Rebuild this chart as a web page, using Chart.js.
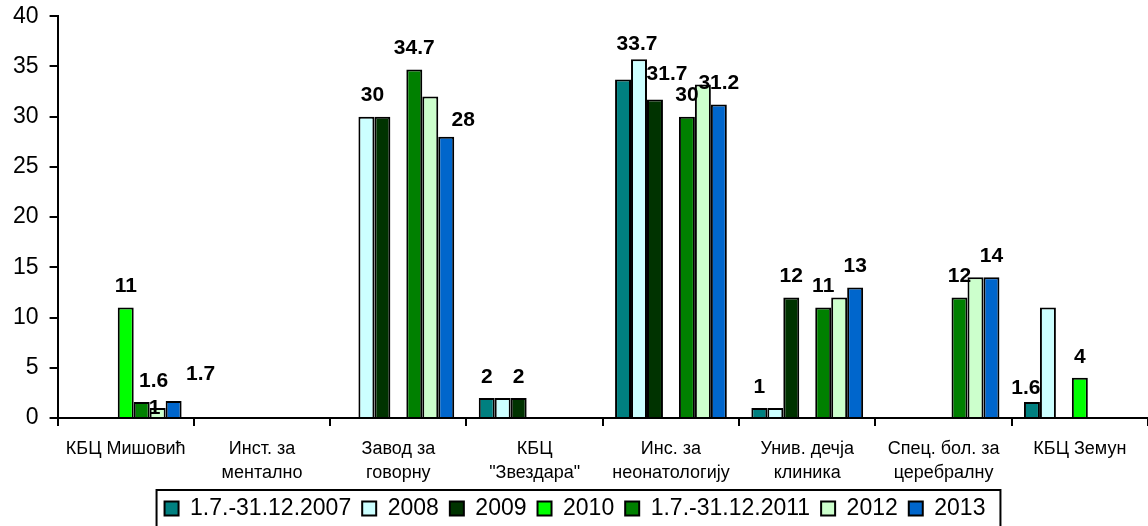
<!DOCTYPE html>
<html>
<head>
<meta charset="utf-8">
<script src="https://cdn.jsdelivr.net/npm/chart.js@4.4.1/dist/chart.umd.min.js"></script>
<style>
    body { margin: 0; background: #fff; }
    #wrap { width: 1148px; height: 526px; }
</style>
</head>
<body>
<div id="wrap"><canvas id="chart"></canvas></div>
<script>
var categories = [
    'КБЦ Мишовић',
    ['Инст. за', 'ментално'],
    ['Завод за', 'говорну'],
    ['КБЦ', '"Звездара"'],
    ['Инс. за', 'неонатологију'],
    ['Унив. дечја', 'клиника'],
    ['Спец. бол. за', 'церебралну'],
    'КБЦ Земун'
];

var seriesNames = ['1.7.-31.12.2007', '2008', '2009', '2010', '1.7.-31.12.2011', '2012', '2013'];

var v2007 = [null, null, null, 2, 33.7, 1, null, 1.6];
var v2008 = [null, null, 30, 2, 35.7, 1, null, 11];
var v2009 = [null, null, 30, 2, 31.7, 12, null, null];
var v2010 = [11, null, null, null, null, null, null, 4];
var v2011 = [1.6, null, 34.7, null, 30, 11, 12, null];
var v2012 = [1, null, 32, null, 33.2, 12, 14, null];
var v2013 = [1.7, null, 28, null, 31.2, 13, 14, null];

// value labels as printed on the chart (not every bar has one)
var t2007 = [null, null, null, '2', '33.7', '1', null, '1.6'];
var t2008 = [null, null, '30', null, null, null, null, null];
var t2009 = [null, null, null, '2', '31.7', '12', null, null];
var t2010 = ['11', null, null, null, null, null, null, '4'];
var t2011 = ['1.6', null, '34.7', null, '30', '11', '12', null];
var t2012 = ['1', null, null, null, null, null, null, null];
var t2013 = ['1.7', null, '28', null, '31.2', '13', '14', null];

var colors = ['#008080', '#ccffff', '#003300', '#00ff00', '#008000', '#ccffcc', '#0066cc'];

var values = [v2007, v2008, v2009, v2010, v2011, v2012, v2013];
var texts = [t2007, t2008, t2009, t2010, t2011, t2012, t2013];

// nudges for labels that sit off-centre in the original
var labelNudge = {
    '0-7': [-6, 7],
    '0-4': [14, -14],
    '1-2': [6, 0],
    '2-4': [12, -4],
    '4-0': [12, 0],
    '5-0': [-3, 21],
    '6-0': [27, -6],
    '6-2': [17, 4]
};

var FONT = 'Arial, "Liberation Sans", sans-serif';

var barLabels = {
    id: 'barLabels',
    afterDatasetsDraw: function (chart) {
        var c = chart.ctx;
        c.save();
        c.font = 'bold 21px ' + FONT;
        c.fillStyle = '#000';
        c.textAlign = 'center';
        c.textBaseline = 'middle';
        texts.forEach(function (arr, i) {
            var meta = chart.getDatasetMeta(i);
            arr.forEach(function (t, j) {
                if (!t) return;
                var el = meta.data[j];
                var n = labelNudge[i + '-' + j] || [0, 0];
                c.fillText(t, el.x + n[0], el.y - 21 + n[1]);
            });
        });
        c.restore();
    }
};

var legendBox = {
    id: 'legendBox',
    afterDraw: function (chart) {
        var boxes = chart.legend.legendHitBoxes;
        if (!boxes || !boxes.length) return;
        var first = boxes[0], last = boxes[boxes.length - 1];
        var c = chart.ctx;
        c.save();
        c.strokeStyle = '#000';
        c.lineWidth = 2;
        c.strokeRect(first.left - 8, first.top - 7, last.left + last.width - first.left + 23, 60);
        c.restore();
    }
};

var datasets = values.map(function (v, i) {
    return {
        label: seriesNames[i],
        data: v,
        backgroundColor: colors[i],
        borderColor: '#000',
        borderWidth: 2,
        categoryPercentage: 0.82,
        barPercentage: 1.0
    };
});

var ctx = document.getElementById('chart');
var myChart = new Chart(ctx, {
    type: 'bar',
    data: {
        labels: categories,
        datasets: datasets
    },
    options: {
        responsive: true,
        maintainAspectRatio: false,
        animation: false,
        layout: {
            padding: { left: 2, top: 0, right: 0, bottom: -4 }
        },
        scales: {
            x: {
                grid: {
                    drawOnChartArea: false,
                    drawTicks: true,
                    tickLength: 8,
                    color: '#000',
                    lineWidth: 2
                },
                border: { display: true, color: '#000', width: 2 },
                ticks: {
                    color: '#000',
                    font: { family: FONT, size: 18, lineHeight: 1.33 },
                    maxRotation: 0,
                    autoSkip: false,
                    padding: 11
                },
                afterFit: function (scale) {
                    scale.height = 68;
                }
            },
            y: {
                min: 0,
                max: 40,
                grid: {
                    drawOnChartArea: false,
                    drawTicks: true,
                    tickLength: 8,
                    color: '#000',
                    lineWidth: 2
                },
                border: { display: true, color: '#000', width: 2 },
                ticks: {
                    stepSize: 5,
                    color: '#000',
                    font: { family: FONT, size: 23, lineHeight: 0.45 },
                    padding: 11
                }
            }
        },
        plugins: {
            legend: {
                position: 'bottom',
                labels: {
                    color: '#000',
                    font: { family: FONT, size: 23 },
                    boxWidth: 14,
                    boxHeight: 14,
                    padding: 11
                }
            },
            tooltip: { enabled: false }
        }
    },
    plugins: [barLabels, legendBox]
});
</script>
</body>
</html>
